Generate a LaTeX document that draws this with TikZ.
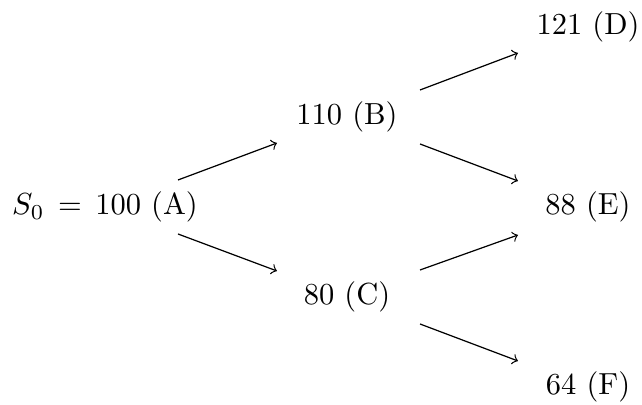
\documentclass[tikz,border=0pt]{standalone}
\usetikzlibrary{arrows}
\begin{document}
\begin{tikzpicture}[x=0.328pt,y=-0.328pt,
  val/.style={inner sep=0pt,outer sep=0pt},
  conn/.style={->,line width=0.4pt}]
\useasboundingbox (0,0) rectangle (642,405);
\node[val] (A) at (105,207) {$S_0 \,=\, 100$ (A)};
\node[val] (B) at (347,117) {110 (B)};
\node[val] (C) at (347,297) {80 (C)};
\node[val] (D) at (588,27) {121 (D)};
\node[val] (E) at (588,207) {88 (E)};
\node[val] (F) at (588,387) {64 (F)};
\draw[conn] ([shift={(73,-27)}]A.center) -- ([shift={(-70,26)}]B.center);
\draw[conn] ([shift={(73,27)}]A.center) -- ([shift={(-70,-26)}]C.center);
\draw[conn] ([shift={(73,-27)}]B.center) -- ([shift={(-70,26)}]D.center);
\draw[conn] ([shift={(73,27)}]B.center) -- ([shift={(-70,-26)}]E.center);
\draw[conn] ([shift={(73,-27)}]C.center) -- ([shift={(-70,28)}]E.center);
\draw[conn] ([shift={(73,27)}]C.center) -- ([shift={(-70,-26)}]F.center);
\end{tikzpicture}
\end{document}
